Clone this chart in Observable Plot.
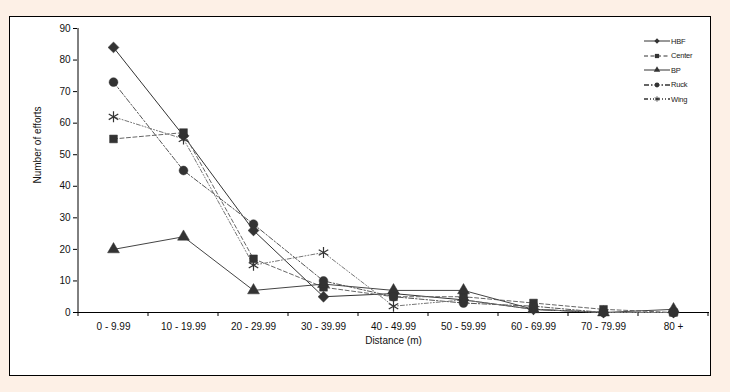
<!DOCTYPE html>
<html><head><meta charset="utf-8">
<script src="https://cdn.jsdelivr.net/npm/d3@7"></script>
<script src="https://cdn.jsdelivr.net/npm/@observablehq/plot@0.6"></script>
<style>
html,body{margin:0;padding:0;}
body{background:#fdf0e6;width:730px;height:392px;overflow:hidden;font-family:"Liberation Sans",Arial,sans-serif;position:relative;}
#box{position:absolute;left:9px;top:16px;width:700px;height:358px;border:1px solid #000;background:#fff;}
#chart{position:absolute;left:0;top:0;}
#legend{position:absolute;left:0;top:0;}
.row{position:absolute;height:14px;display:flex;align-items:center;font-size:7.5px;color:#222;letter-spacing:-0.2px;}
.row svg{display:block;}
</style></head><body>
<div id="box"></div><div id="chart"></div><div id="legend"></div>
<script>
const categories = ["0 - 9.99","10 - 19.99","20 - 29.99","30 - 39.99","40 - 49.99","50 - 59.99","60 - 69.99","70 - 79.99","80 +"];
const HBF    = [84, 56, 26, 5, 6, 4, 1, 0, 0];
const Center = [55, 57, 17, 8, 5, 5, 3, 1, 0];
const BP     = [20, 24, 7, 9, 7, 7, 1, 0, 1];
const Ruck   = [73, 45, 28, 10, 5, 3, 2, 0, 0];
const Wing   = [62, 55, 15, 19, 2, 4, 1, 0, 0];
const seriesNames = ["HBF", "Center", "BP", "Ruck", "Wing"];
const seriesValues = [HBF, Center, BP, Ruck, Wing];
const yTicks = [0, 10, 20, 30, 40, 50, 60, 70, 80, 90];
const xTitle = "Distance (m)";
const yTitle = "Number of efforts";

const styles = {
  HBF:    {stroke: "#333", dash: null,            symbol: "diamond2", r: 4.9, d3sym: d3.symbolDiamond2, stroked: false},
  Center: {stroke: "#666", dash: "4,2.5",         symbol: "square",   r: 4.4, d3sym: d3.symbolSquare,   stroked: false},
  BP:     {stroke: "#444", dash: null,            symbol: "triangle", r: 4.4, d3sym: d3.symbolTriangle, stroked: false},
  Ruck:   {stroke: "#555", dash: "5,2,1.5,2",     symbol: "circle",   r: 4.4, d3sym: d3.symbolCircle,   stroked: false},
  Wing:   {stroke: "#777", dash: "4,2,1,2,1,2",   symbol: "asterisk", r: 5.2, d3sym: d3.symbolAsterisk, stroked: true}
};

const tables = seriesNames.map((name, k) => categories.map((c, i) => ({series: name, cat: c, value: seriesValues[k][i]})));

function frameLines(index, scales, values, dims) {
  const x = scales.x, y = scales.y;
  const step = x.step();
  const g = d3.create("svg:g").attr("stroke", "#000").attr("stroke-width", 1);
  const y0 = y(0);
  const bounds = categories.map(c => x(c) - step / 2).concat([x(categories[categories.length - 1]) + step / 2]);
  for (const b of bounds) g.append("line").attr("x1", b).attr("x2", b).attr("y1", y0).attr("y2", y0 + 4);
  const xl = x(categories[0]) - step / 2;
  g.append("line").attr("x1", xl).attr("x2", xl).attr("y1", y(0)).attr("y2", y(yTicks[yTicks.length - 1]));
  return g.node();
}

const marks = [];
seriesNames.forEach((name, k) => {
  const s = styles[name];
  marks.push(Plot.line(tables[k], {x: "cat", y: "value", stroke: s.stroke, strokeWidth: 1, strokeDasharray: s.dash}));
});
seriesNames.forEach((name, k) => {
  const s = styles[name];
  marks.push(Plot.dot(tables[k], s.stroked
    ? {x: "cat", y: "value", symbol: s.symbol, r: s.r, stroke: "#333", strokeWidth: 1.2, fill: "none"}
    : {x: "cat", y: "value", symbol: s.symbol, r: s.r, fill: "#333", stroke: "#333", strokeWidth: 0.5}));
});

const chart = Plot.plot({
  width: 730, height: 392,
  marginLeft: 77, marginTop: 28, marginBottom: 80, marginRight: 21,
  style: {background: "transparent", fontFamily: "'Liberation Sans', Arial, sans-serif", fontSize: "10px", color: "#111", overflow: "visible"},
  x: {type: "point", domain: categories, padding: 0.5, label: null},
  y: {domain: [0, 90], ticks: yTicks, label: null},
  marks: [
    Plot.ruleY([0], {stroke: "#000", strokeWidth: 1}),
    frameLines,
    Plot.axisY({ticks: yTicks, tickSize: 4, tickPadding: 3, label: null, stroke: "#000"}),
    Plot.axisX({tickSize: 0, tickPadding: 10, label: null}),
    Plot.text([xTitle], {frameAnchor: "bottom", dy: 31, fontSize: 10, fill: "#111"}),
    Plot.text([yTitle], {frameAnchor: "left", dx: -40, dy: 13, rotate: -90, fontSize: 10, fill: "#111"}),
    ...marks
  ]
});
document.getElementById("chart").appendChild(chart);

// legend
const legend = d3.select("#legend");
seriesNames.forEach((name, k) => {
  const s = styles[name];
  const row = legend.append("div").attr("class", "row").style("left", "643px").style("top", (34 + k * 14.5) + "px");
  const svg = row.append("svg").attr("width", 28).attr("height", 14);
  svg.append("line").attr("x1", 1).attr("x2", 27).attr("y1", 7).attr("y2", 7)
    .attr("stroke", "#333").attr("stroke-width", name === "Ruck" || name === "Wing" ? 1.6 : 1)
    .attr("stroke-dasharray", s.dash);
  const p = svg.append("path").attr("transform", "translate(14,7)").attr("d", d3.symbol(s.d3sym, 18)());
  if (s.stroked) p.attr("fill", "none").attr("stroke", "#333"); else p.attr("fill", "#333");
  row.append("span").text(name);
});
</script>
</body></html>
